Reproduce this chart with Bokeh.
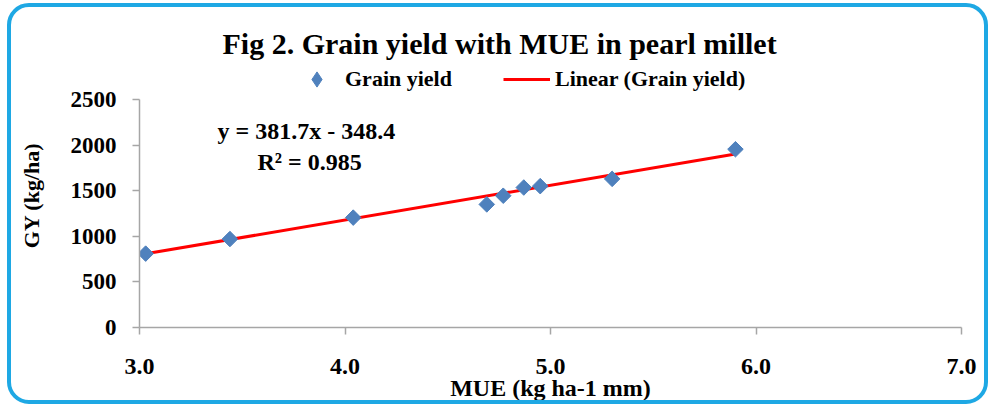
import math
from bokeh.plotting import figure
from bokeh.models import (Range1d, Legend, LegendItem, Label,
                          FixedTicker, ColumnDataSource, NumeralTickFormatter)
from bokeh.embed import file_html
from bokeh.resources import INLINE

# ---- data ----
mue = [3.03, 3.44, 4.04, 4.69, 4.77, 4.87, 4.95, 5.30, 5.90]
grain_yield = [810, 970, 1205, 1350, 1445, 1535, 1550, 1630, 1955]
slope = 381.7
intercept = -348.4
r_squared = 0.985
x_ticks = [3.0, 4.0, 5.0, 6.0, 7.0]
y_ticks = [0, 500, 1000, 1500, 2000, 2500]

title_text = "Fig 2. Grain yield with MUE in pearl millet"
x_label = "MUE (kg ha-1 mm)"
y_label = "GY (kg/ha)"
series_name = "Grain yield"
trend_name = "Linear (Grain yield)"

FONT = "Liberation Serif"
BORDER = 4
W, H = 973, 393
ML, MR, MT, MB = 128, 31, 56, 81
Y_VIEW_TOP = 2895  # headroom above the 2500 axis end for the legend

p = figure(width=W, height=H, output_backend="svg", toolbar_location=None,
           x_range=Range1d(3.0, 7.0), y_range=Range1d(0, Y_VIEW_TOP),
           min_border_left=ML, min_border_right=MR,
           min_border_top=MT, min_border_bottom=MB)
p.styles = {"border": f"{BORDER}px solid #1EA8E4", "border-radius": "22px",
            "box-sizing": "content-box", "margin": "3px 0 0 7px"}
p.outline_line_color = None
p.background_fill_color = "white"
p.border_fill_alpha = 0
p.xgrid.visible = False
p.ygrid.visible = False

# title
p.title.text = title_text
p.title.text_font = FONT
p.title.text_font_style = "bold"
p.title.text_font_size = "30px"
p.title.text_color = "black"
p.title.align = "left"
p.title.offset = 83
p.title.standoff = 8

# axes
for ax in (p.xaxis[0], p.yaxis[0]):
    ax.axis_line_color = "#A6A6A6"
    ax.axis_line_width = 1.5
    ax.major_tick_line_color = "#A6A6A6"
    ax.major_tick_line_width = 1.5
    ax.major_tick_out = 7
    ax.major_tick_in = 0
    ax.minor_tick_line_color = None
    ax.major_label_text_font = FONT
    ax.major_label_text_font_style = "bold"
    ax.major_label_text_color = "black"
    ax.axis_label_text_font = FONT
    ax.axis_label_text_font_style = "bold"
    ax.axis_label_text_color = "black"

p.xaxis.ticker = FixedTicker(ticks=x_ticks)
p.xaxis.formatter = NumeralTickFormatter(format="0.0")
p.xaxis.major_label_text_font_size = "24px"
p.xaxis.major_label_standoff = 24
p.xaxis.axis_label = x_label
p.xaxis.axis_label_text_font_size = "24px"
p.xaxis.axis_label_standoff = -2

p.yaxis.ticker = FixedTicker(ticks=y_ticks)
p.yaxis.bounds = (y_ticks[0], y_ticks[-1])
p.yaxis.major_label_text_font_size = "23px"
p.yaxis.major_label_standoff = 16
p.yaxis.axis_label = y_label
p.yaxis.axis_label_text_font_size = "22px"
p.yaxis.axis_label_standoff = 24

# trend line
tx = [min(mue), max(mue)]
ty = [slope * v + intercept for v in tx]
trend = p.line(tx, ty, line_color="#FF0000", line_width=3)

src = ColumnDataSource(dict(x=mue, y=grain_yield))
pts = p.scatter("x", "y", source=src, marker="square", angle=math.pi / 4,
                size=11, fill_color="#4F81BD", line_color="#4F81BD")

# hidden diamond renderer of the same series, used only as the legend swatch
swatch = p.scatter("x", "y", source=src, marker="diamond",
                   fill_color="#4F81BD", line_color="#4F81BD", visible=False)

# legend (in the headroom above the axis end)
legend = Legend(items=[LegendItem(label=series_name, renderers=[swatch]),
                       LegendItem(label=trend_name, renderers=[trend])],
                orientation="horizontal", location=(154, 229),
                glyph_width=47, glyph_height=38, label_height=20,
                label_standoff=5, spacing=51, padding=0, margin=0,
                border_line_color=None, background_fill_alpha=0,
                inactive_fill_alpha=0,
                label_text_font=FONT, label_text_font_style="bold",
                label_text_font_size="22px", label_text_color="black")
p.add_layout(legend, "center")

# trendline equation
eq_text = f"y = {slope}x - {abs(intercept)}"
r2_text = f"R\u00b2 = {r_squared}"
p.add_layout(Label(x=3.38, y=2150, text=eq_text, text_font=FONT,
                   text_font_style="bold", text_font_size="24px",
                   text_color="black", text_baseline="alphabetic"))
p.add_layout(Label(x=3.574, y=1810, text=r2_text, text_font=FONT,
                   text_font_style="bold", text_font_size="24px",
                   text_color="black", text_baseline="alphabetic"))

open("out.html", "w").write(file_html(p, INLINE))
